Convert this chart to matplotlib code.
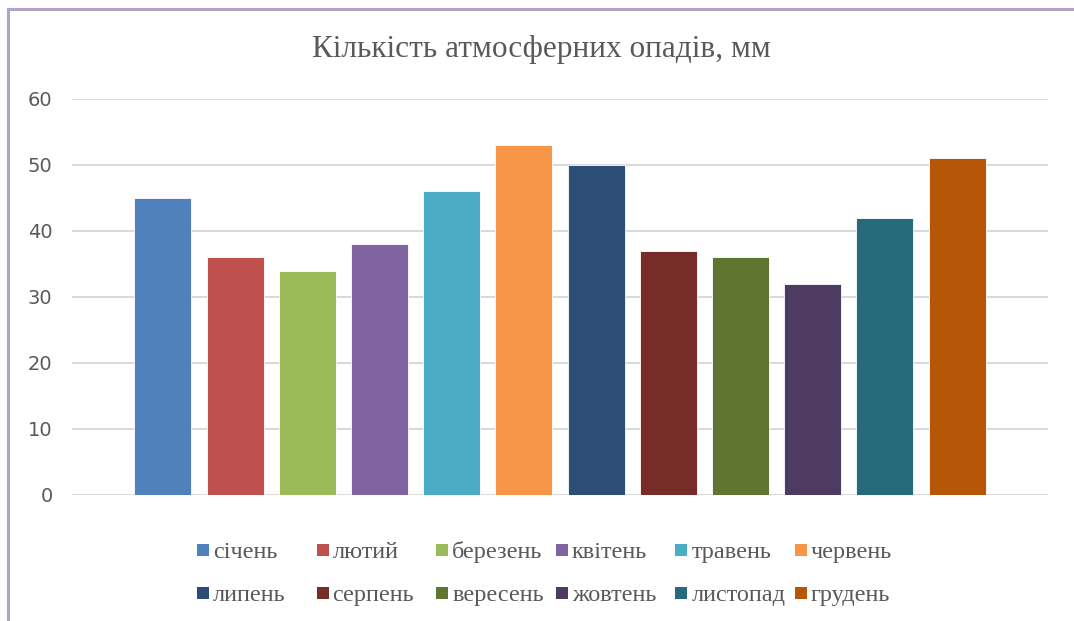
import matplotlib
matplotlib.use("Agg")
import matplotlib.pyplot as plt
from matplotlib.patches import Rectangle
from matplotlib.lines import Line2D

months = ["січень", "лютий", "березень", "квітень", "травень", "червень",
          "липень", "серпень", "вересень", "жовтень", "листопад", "грудень"]
values = [45, 36, 34, 38, 46, 53, 50, 37, 36, 32, 42, 51]
colors = ["#4F81BD", "#C0504D", "#9BBB59", "#8064A2", "#4BACC6", "#F79646",
          "#2C4D75", "#772C2A", "#5F7530", "#4D3B62", "#276A7C", "#B65708"]
yticks = [0, 10, 20, 30, 40, 50, 60]
title = "Кількість атмосферних опадів, мм"

W, H = 1074, 621
fig = plt.figure(figsize=(W / 100, H / 100), dpi=100)
fig.patch.set_facecolor("white")

ax = fig.add_axes([72 / W, 1 - 495 / H, (1048 - 72) / W, (495 - 99) / H])
x = list(range(len(values)))
ax.bar(x, values, width=0.79, color=colors, edgecolor="white", linewidth=0.6, zorder=3)
ax.set_xlim(-1.26, 12.26)
ax.set_ylim(0, 60)
ax.set_yticks(yticks)
ax.set_yticklabels([str(v) for v in yticks], fontsize=14, color="#595959",
                   family="DejaVu Sans")
ax.tick_params(axis="y", length=0, pad=14)
ax.set_xticks([])
ax.grid(axis="y", color="#D9D9D9", linewidth=1.4, zorder=0)
for s in ax.spines.values():
    s.set_visible(False)

fig.text(541 / W, 1 - 57 / H, title, ha="center", va="baseline",
         fontsize=22.5, color="#595959", family="Liberation Serif")

# legend (manual, uniform column spacing as in the reference)
for i, (name, col) in enumerate(zip(months, colors)):
    c, r = i % 6, i // 6
    x0 = 197 + c * 119.6
    top = 544 + r * 43
    fig.add_artist(Rectangle((x0 / W, 1 - (top + 12) / H), 12 / W, 12 / H,
                             transform=fig.transFigure, facecolor=col,
                             edgecolor="none"))
    fig.text((x0 + 16) / W, 1 - (top + 14) / H, name, ha="left", va="baseline",
             fontsize=17.5, color="#595959", family="Liberation Serif")

# chart border (left and top)
border = "#B3A2C7"
fig.add_artist(Line2D([8 / W, 8 / W], [0, 1 - 9 / H], transform=fig.transFigure,
                      color=border, linewidth=2.2))
fig.add_artist(Line2D([8 / W, 1], [1 - 9 / H, 1 - 9 / H], transform=fig.transFigure,
                      color=border, linewidth=2.2))

fig.savefig("out.png", dpi=100, facecolor="white")
